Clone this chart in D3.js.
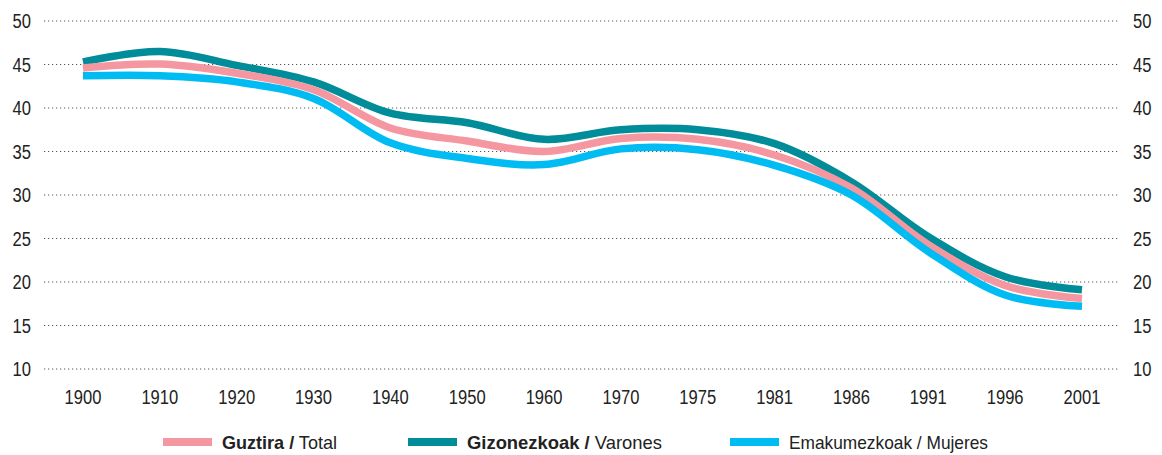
<!DOCTYPE html>
<html><head><meta charset="utf-8">
<script src="https://cdn.jsdelivr.net/npm/d3@7"></script>
<style>
html,body{margin:0;padding:0;background:#fff;}
svg{display:block;font-family:"Liberation Sans",Arial,sans-serif;}
</style></head>
<body>
<svg id="chart" width="1162" height="455"></svg>
<script>
const years = ["1900","1910","1920","1930","1940","1950","1960","1970","1975","1981","1986","1991","1996","2001"];
const total   = [44.6,45.05,44.0,42.1,37.7,36.2,35.0,36.5,36.4,34.6,30.8,24.3,19.6,18.1];
const varones = [45.3,46.5,44.9,43.0,39.4,38.3,36.4,37.5,37.5,35.9,31.5,25.2,20.6,19.1];
const mujeres = [43.7,43.7,43.0,41.1,36.0,34.2,33.5,35.3,35.2,33.4,30.0,23.5,18.5,17.2];
const yTicks = [10,15,20,25,30,35,40,45,50];
const seriesNames = [
  {bold:"Guztira /", rest:" Total"},
  {bold:"Gizonezkoak /", rest:" Varones"},
  {bold:"", rest:"Emakumezkoak / Mujeres"}
];
const colors = ["#f497a0","#008c99","#00bcf2"];
const seriesData = [total, varones, mujeres];

const svg = d3.select("#chart");
const x = d3.scalePoint().domain(years).range([83,1082]);
const y = d3.scaleLinear().domain([10,50]).range([369,21]);

// grid
svg.append("g").selectAll("line").data(yTicks).join("line")
  .attr("x1",44).attr("x2",1119)
  .attr("y1",d=>y(d)).attr("y2",d=>y(d))
  .attr("stroke","#555").attr("stroke-width",1.2)
  .attr("stroke-dasharray","1.2,2.8");

function condense(sel, f){
  sel.each(function(){
    const w = this.getComputedTextLength();
    d3.select(this).attr("textLength", w*f).attr("lengthAdjust","spacingAndGlyphs");
  });
}

// left axis labels
const yl = svg.append("g").selectAll("text").data(yTicks).join("text")
  .attr("x",31).attr("y",d=>y(d)).attr("dy","0.36em")
  .attr("text-anchor","end").attr("font-size",19.5).attr("fill","#222")
  .text(d=>d);
condense(yl,0.85);
const yr = svg.append("g").selectAll("text").data(yTicks).join("text")
  .attr("x",1133).attr("y",d=>y(d)).attr("dy","0.36em")
  .attr("text-anchor","start").attr("font-size",19.5).attr("fill","#222")
  .text(d=>d);
condense(yr,0.85);

// x labels
const xl = svg.append("g").selectAll("text").data(years).join("text")
  .attr("x",d=>x(d)).attr("y",397).attr("dy","0.36em")
  .attr("text-anchor","middle").attr("font-size",19.5).attr("fill","#222")
  .text(d=>d);
condense(xl,0.85);

// lines
const line = d3.line().x((d,i)=>x(years[i])).y(d=>y(d)).curve(d3.curveCatmullRom.alpha(0.5));
const order = [1,0,2];
order.forEach(k=>{
  svg.append("path").datum(seriesData[k])
    .attr("d",line).attr("fill","none")
    .attr("stroke",colors[k]).attr("stroke-width",7.5)
    .attr("stroke-linecap","butt").attr("stroke-linejoin","round");
});

// legend
const legX = [163,408,730];
const legW = [115,195,199];
seriesNames.forEach((s,i)=>{
  const g = svg.append("g");
  g.append("rect").attr("x",legX[i]).attr("y",438).attr("width",49).attr("height",8).attr("fill",colors[i]);
  const t = g.append("text").attr("x",legX[i]+59).attr("y",448.5).attr("font-size",19).attr("fill","#222");
  if(s.bold) t.append("tspan").attr("font-weight","bold").text(s.bold);
  t.append("tspan").text(s.rest);
  t.attr("textLength",legW[i]).attr("lengthAdjust","spacingAndGlyphs");
});
</script>
</body></html>
